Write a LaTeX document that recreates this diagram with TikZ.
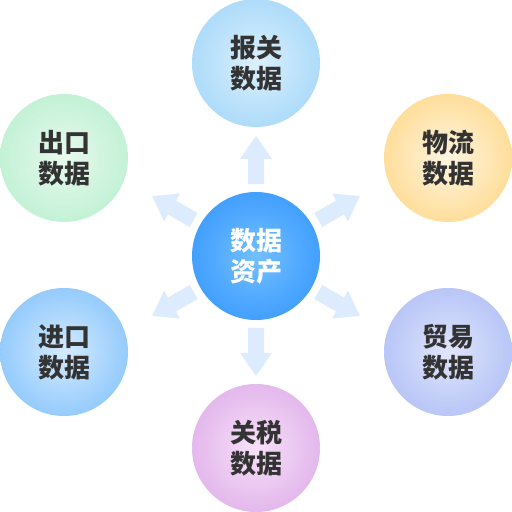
\documentclass[tikz,border=0pt]{standalone}
\usepackage{fontspec}
\setmainfont{Noto Sans CJK SC}
\usetikzlibrary{calc}
\pgfdeclareradialshading{gcenter}{\pgfpoint{0bp}{0bp}}{rgb(0bp)=(0.45,0.75,1); rgb(22bp)=(0.28,0.64,1); rgb(50bp)=(0.10,0.52,1)}
\pgfdeclareradialshading{gcustoms}{\pgfpoint{0bp}{0bp}}{rgb(0bp)=(0.86,0.94,0.99); rgb(22bp)=(0.70,0.87,0.98); rgb(50bp)=(0.54,0.79,0.97)}
\pgfdeclareradialshading{glogistics}{\pgfpoint{0bp}{0bp}}{rgb(0bp)=(1,0.96,0.88); rgb(22bp)=(1,0.88,0.64); rgb(50bp)=(1,0.78,0.38)}
\pgfdeclareradialshading{gtrade}{\pgfpoint{0bp}{0bp}}{rgb(0bp)=(0.88,0.90,0.99); rgb(22bp)=(0.74,0.79,0.97); rgb(50bp)=(0.59,0.67,0.95)}
\pgfdeclareradialshading{gtariff}{\pgfpoint{0bp}{0bp}}{rgb(0bp)=(0.97,0.88,0.98); rgb(22bp)=(0.90,0.74,0.93); rgb(50bp)=(0.82,0.58,0.88)}
\pgfdeclareradialshading{gimport}{\pgfpoint{0bp}{0bp}}{rgb(0bp)=(0.83,0.92,1); rgb(22bp)=(0.61,0.81,0.99); rgb(50bp)=(0.38,0.69,0.98)}
\pgfdeclareradialshading{gexport}{\pgfpoint{0bp}{0bp}}{rgb(0bp)=(0.91,0.98,0.93); rgb(22bp)=(0.78,0.95,0.85); rgb(50bp)=(0.63,0.92,0.75)}
\definecolor{arrowc}{HTML}{DCEBFD}
\definecolor{txt}{HTML}{333333}
\tikzset{
  bubble/.style={circle, minimum size=128pt, inner sep=0pt, align=center,
    font=\fontsize{26}{31}\selectfont\bfseries, text=txt},
}
\begin{document}
\begin{tikzpicture}[x=1pt,y=1pt]
\useasboundingbox (0,0) rectangle (512,512);
\coordinate (c) at (256,256);
\foreach \a in {90,30,-30,-90,-150,150}{
  \fill[arrowc] ($(c)+(\a:72pt)+(\a+90:8pt)$) -- ($(c)+(\a:97pt)+(\a+90:8pt)$)
    -- ($(c)+(\a:97pt)+(\a+90:16pt)$) -- ($(c)+(\a:120pt)$)
    -- ($(c)+(\a:97pt)+(\a-90:16pt)$) -- ($(c)+(\a:97pt)+(\a-90:8pt)$)
    -- ($(c)+(\a:72pt)+(\a-90:8pt)$) -- cycle;
}
\node[bubble, shading=gcenter, text=white] (center) at (c) {数据\\资产};
\node[bubble, shading=gcustoms] (customs) at (256,449) {报关\\数据};
\node[bubble, shading=glogistics] (logistics) at (448,354) {物流\\数据};
\node[bubble, shading=gtrade] (trade) at (448,160) {贸易\\数据};
\node[bubble, shading=gtariff] (tariff) at (256,64) {关税\\数据};
\node[bubble, shading=gimport] (import) at (64,160) {进口\\数据};
\node[bubble, shading=gexport] (export) at (64,354) {出口\\数据};
\end{tikzpicture}
\end{document}
